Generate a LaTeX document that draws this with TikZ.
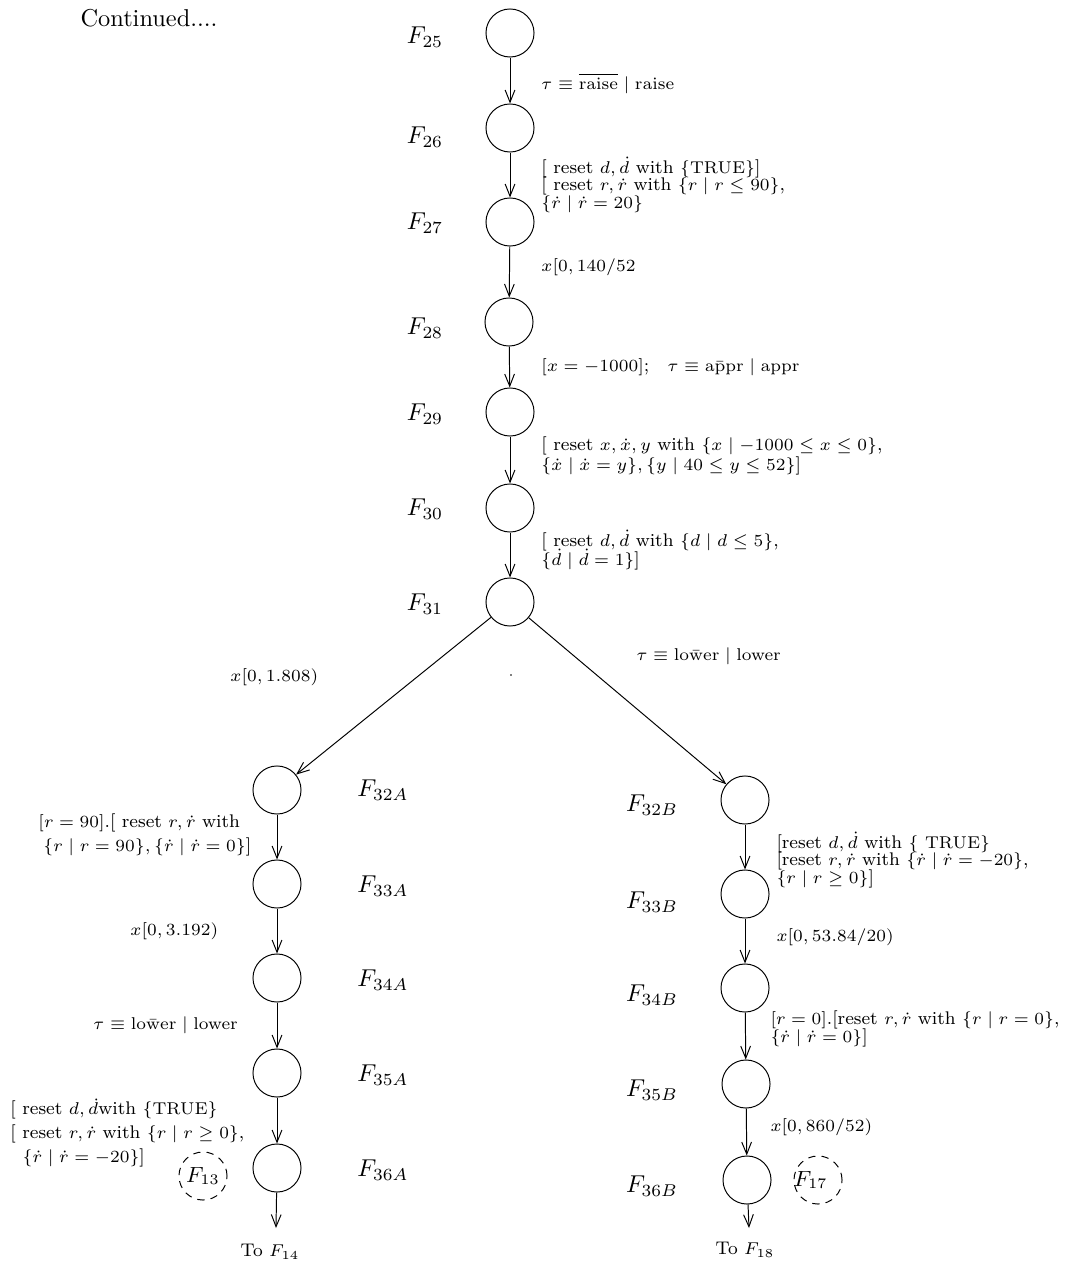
\documentclass[tikz,border=0pt]{standalone}
\usetikzlibrary{arrows.meta}
\begin{document}
\begin{tikzpicture}[x=0.41pt,y=-0.41pt,
  state/.style={circle,draw,minimum size=19.7pt,inner sep=0pt},
  ghost/.style={circle,draw,dash pattern=on 3pt off 2.5pt,minimum size=19.7pt,inner sep=0pt,font=\small},
  flabel/.style={font=\normalsize,inner sep=0pt},
  elabel/.style={font=\fontsize{7.5}{9}\selectfont,align=left,anchor=west,inner sep=0pt},
  endlabel/.style={font=\fontsize{7.5}{9}\selectfont,inner sep=0pt},
  arr/.style={thin,-{Straight Barb[length=5pt,width=4pt]}}]
\useasboundingbox (0,0) rectangle (1065,1267);

\node[font=\normalsize] (cont) at (149,18) {Continued....};

% main column
\node[state] (f25) at (510,33) {};
\node[state] (f26) at (510,128) {};
\node[state] (f27) at (510,222) {};
\node[state] (f28) at (509,322) {};
\node[state] (f29) at (510,412) {};
\node[state] (f30) at (510,508) {};
\node[state] (f31) at (510,602) {};

\node[flabel] (l25) at (425,37) {$F_{25}$};
\node[flabel] (l26) at (425,137) {$F_{26}$};
\node[flabel] (l27) at (425,223) {$F_{27}$};
\node[flabel] (l28) at (425,328) {$F_{28}$};
\node[flabel] (l29) at (425,414) {$F_{29}$};
\node[flabel] (l30) at (425,509) {$F_{30}$};
\node[flabel] (l31) at (425,604) {$F_{31}$};

\draw[arr] (f25) -- (f26);
\draw[arr] (f26) -- (f27);
\draw[arr] (f27) -- (f28);
\draw[arr] (f28) -- (f29);
\draw[arr] (f29) -- (f30);
\draw[arr] (f30) -- (f31);

\node[elabel] (e1) at (541,83) {$\tau \equiv \overline{\mathrm{raise}} \mid \mathrm{raise}$};
\node[elabel] (e2) at (541,185) {{[} reset $d, \dot d$ with $\{\mathrm{TRUE}\}$]\\[-1.8pt]
{[} reset $r, \dot r$ with $\{r \mid r \leq 90\}$,\\[-1.8pt]
$\{\dot r \mid \dot r = 20\}$};
\node[elabel] (e3) at (541,267) {$x[0, 140/52$};
\node[elabel] (e4) at (541,367) {$[x = -1000]$;\quad$\tau \equiv \mathrm{a}\bar{\mathrm{p}}\mathrm{pr} \mid \mathrm{appr}$};
\node[elabel] (e5) at (541,456) {{[} reset $x, \dot x, y$ with $\{x \mid -1000 \leq x \leq 0\}$,\\[-1pt]
$\{\dot x \mid \dot x = y\}, \{y \mid 40 \leq y \leq 52\}$]};
\node[elabel] (e6) at (541,550) {{[} reset $d, \dot d$ with $\{d \mid d \leq 5\}$,\\[-1.2pt]
$\{\dot d \mid \dot d = 1\}$]};

% branches
\node[state] (f32a) at (277,790) {};
\node[state] (f33a) at (277,884) {};
\node[state] (f34a) at (277,978) {};
\node[state] (f35a) at (277,1073) {};
\node[state] (f36a) at (277,1168) {};

\node[state] (f32b) at (745,800) {};
\node[state] (f33b) at (745,894) {};
\node[state] (f34b) at (745,988) {};
\node[state] (f35b) at (746,1084) {};
\node[state] (f36b) at (747,1180) {};

\draw[arr] (f31) -- (f32a);
\draw[arr] (f31) -- (f32b);
\node[elabel] (e7) at (636,656) {$\tau \equiv \mathrm{lo}\bar{\mathrm{w}}\mathrm{er} \mid \mathrm{lower}$};
\node[elabel] (e8) at (230,677) {$x[0, 1.808)$};
\fill (511,675) circle (0.8);

\node[flabel] (l32a) at (383,790) {$F_{32A}$};
\node[flabel] (l33a) at (383,886) {$F_{33A}$};
\node[flabel] (l34a) at (383,980) {$F_{34A}$};
\node[flabel] (l35a) at (383,1075) {$F_{35A}$};
\node[flabel] (l36a) at (383,1170) {$F_{36A}$};

\node[flabel] (l32b) at (652,805) {$F_{32B}$};
\node[flabel] (l33b) at (652,902) {$F_{33B}$};
\node[flabel] (l34b) at (652,995) {$F_{34B}$};
\node[flabel] (l35b) at (652,1090) {$F_{35B}$};
\node[flabel] (l36b) at (652,1186) {$F_{36B}$};

\draw[arr] (f32a) -- (f33a);
\draw[arr] (f33a) -- (f34a);
\draw[arr] (f34a) -- (f35a);
\draw[arr] (f35a) -- (f36a);
\coordinate (e14) at (276,1228);
\draw[arr] (f36a) -- (e14);
\node[endlabel] (to14) at (270,1252) {To $F_{14}$};

\draw[arr] (f32b) -- (f33b);
\draw[arr] (f33b) -- (f34b);
\draw[arr] (f34b) -- (f35b);
\draw[arr] (f35b) -- (f36b);
\coordinate (e18) at (749,1228);
\draw[arr] (f36b) -- (e18);
\node[endlabel] (to18) at (745,1250) {To $F_{18}$};

\node[ghost] (g13) at (203,1176) {$F_{13}$};
\node[ghost] (g17) at (818,1180) {\hspace{-6pt}$F_{17}$};

% left labels
\node[elabel] (a1) at (38,835) {$[r = 90]$.{[} reset $r, \dot r$ with\\[0.8pt]
\hspace{2pt}$\{r \mid r = 90\}, \{\dot r \mid \dot r = 0\}$]};
\node[elabel] (a2) at (130,931) {$x[0, 3.192)$};
\node[elabel] (a3) at (93,1025) {$\tau \equiv \mathrm{lo}\bar{\mathrm{w}}\mathrm{er} \mid \mathrm{lower}$};
\node[elabel] (a4) at (10,1133) {{[} reset $d, \dot d$with $\{\mathrm{TRUE}\}$\\[0.8pt]
{[} reset $r, \dot r$ with $\{r \mid r \geq 0\}$,\\[0.8pt]
\hspace{5pt}$\{\dot r \mid \dot r = -20\}$]};

% right labels
\node[elabel] (b1) at (776,860) {{[}reset $d, \dot d$ with $\{$ $\mathrm{TRUE}\}$\\[-1.8pt]
{[}reset $r, \dot r$ with $\{\dot r \mid \dot r = -20\}$,\\[-1.8pt]
$\{r \mid r \geq 0\}$]};
\node[elabel] (b2) at (776,937) {$x[0, 53.84/20)$};
\node[elabel] (b3) at (770,1029) {$[r = 0]$.{[}reset $r, \dot r$ with $\{r \mid r = 0\}$,\\[-1.6pt]
$\{\dot r \mid \dot r = 0\}$]};
\node[elabel] (b4) at (770,1127) {$x[0, 860/52)$};
\end{tikzpicture}
\end{document}
